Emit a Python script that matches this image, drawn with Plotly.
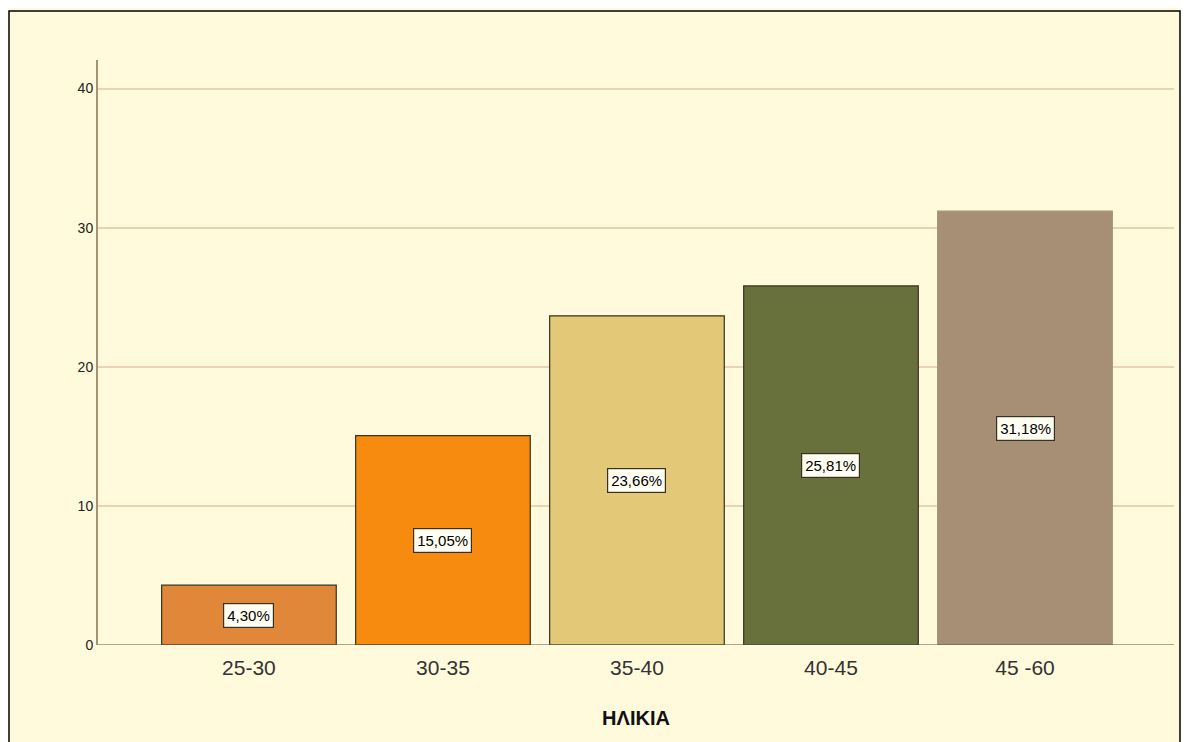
import plotly.graph_objects as go

categories = ["25-30", "30-35", "35-40", "40-45", "45 -60"]
values = [4.30, 15.05, 23.66, 25.81, 31.18]
labels = ["4,30%", "15,05%", "23,66%", "25,81%", "31,18%"]
colors = ["#E0873A", "#F68B10", "#E2C877", "#68703B", "#A78F76"]
outline = ["#3A3020", "#3A3020", "#3A3020", "#3A3020", "#A78F76"]
y_ticks = [0, 10, 20, 30, 40]

OFF = 8  # page body offset
W, H = 1189 - OFF, 742 - OFF
ml, mt = 98 - OFF, 60 - OFF
mr = W - (1174 - OFF)
mb = H - (645 - OFF)
pw = W - ml - mr
ph = H - mt - mb

fig = go.Figure(go.Bar(
    x=categories, y=values,
    marker=dict(color=colors, line=dict(color=outline, width=1.2)),
    width=0.9,
    hoverinfo="skip",
))

for c, v, t in zip(categories, values, labels):
    fig.add_annotation(
        x=c, y=v / 2, text=t, showarrow=False,
        font=dict(family="Arial, Liberation Sans", size=15, color="#000000"),
        bgcolor="#FFFEF2", bordercolor="#3A3020", borderwidth=1.2, borderpad=3,
    )


def px(x):
    return (x - OFF - ml) / pw


def py(y):
    return (H - mb - (y - OFF)) / ph


# outer frame
fig.add_shape(type="rect", xref="paper", yref="paper",
              x0=px(9), x1=px(1180), y0=py(760), y1=py(11),
              line=dict(color="#000000", width=1.5), fillcolor="rgba(0,0,0,0)", layer="below")

fig.update_layout(
    width=W, height=H,
    margin=dict(l=ml, r=mr, t=mt, b=mb),
    paper_bgcolor="#FFFADC",
    plot_bgcolor="#FFFADC",
    showlegend=False,
    font=dict(family="Arial, Liberation Sans", color="#222222"),
    xaxis=dict(
        range=[-0.778, 4.768],
        showgrid=False, zeroline=False,
        showline=False,
        ticks="",
        ticklabelstandoff=8,
        tickfont=dict(size=21, color="#333333"),
        title=dict(text="<b>ΗΛΙΚΙΑ</b>", font=dict(size=20, color="#111111"), standoff=32),
    ),
    yaxis=dict(
        range=[0, 42.05],
        tickvals=y_ticks,
        showgrid=True, gridcolor="#E9D3B3", gridwidth=1.5,
        zeroline=False,
        showline=True, linecolor="#A89274", linewidth=2,
        ticks="", ticklen=0,
        tickfont=dict(size=14, color="#222222"),
    ),
)

# baseline line at 0
fig.add_shape(type="line", xref="paper", yref="y", x0=0, x1=1, y0=0, y1=0,
              line=dict(color="#555555", width=1.2), layer="above")

fig.write_html("out.html")
